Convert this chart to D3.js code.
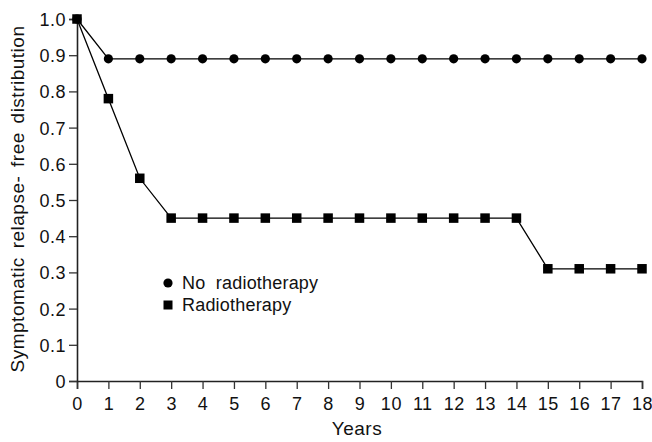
<!DOCTYPE html>
<html>
<head>
<meta charset="utf-8">
<script src="https://cdn.jsdelivr.net/npm/d3@7"></script>
<style>
  body { margin: 0; background: #fff; }
  text { font-family: "Liberation Sans", Arial, sans-serif; fill: #111; letter-spacing: 0.5px; }
</style>
</head>
<body>
<div id="chart"></div>
<script>
// data
var years = [0, 1, 2, 3, 4, 5, 6, 7, 8, 9, 10, 11, 12, 13, 14, 15, 16, 17, 18];
var noRadio = [1.0, 0.89, 0.89, 0.89, 0.89, 0.89, 0.89, 0.89, 0.89, 0.89, 0.89, 0.89, 0.89, 0.89, 0.89, 0.89, 0.89, 0.89, 0.89];
var radio = [1.0, 0.78, 0.56, 0.45, 0.45, 0.45, 0.45, 0.45, 0.45, 0.45, 0.45, 0.45, 0.45, 0.45, 0.45, 0.31, 0.31, 0.31, 0.31];
var yTicks = [0, 0.1, 0.2, 0.3, 0.4, 0.5, 0.6, 0.7, 0.8, 0.9, 1.0];
var seriesNames = ["No  radiotherapy", "Radiotherapy"];

var svgWidth = 652;
var svgHeight = 442;
var fontSize = 18;

var margin = { top: 19, right: 10, bottom: 61, left: 77 };
var width = 642 - margin.left;
var height = 381 - margin.top;

var svg = d3.select("#chart")
  .append("svg")
  .attr("width", svgWidth)
  .attr("height", svgHeight);

var chartGroup = svg.append("g")
  .attr("transform", `translate(${margin.left}, ${margin.top})`);

var x = d3.scaleLinear().domain([0, 18]).range([0, width]);
var y = d3.scaleLinear().domain([0, 1]).range([height, 0]);

var bottomAxis = d3.axisBottom(x).tickValues(years).tickSize(8).tickPadding(8).tickFormat(d3.format("d"));
var leftAxis = d3.axisLeft(y).tickValues(yTicks).tickSize(8).tickPadding(3)
  .tickFormat(function(d) { return d === 0 ? "0" : d3.format(".1f")(d); });

var xg = chartGroup.append("g")
  .attr("transform", `translate(0, ${height})`)
  .call(bottomAxis);

var yg = chartGroup.append("g")
  .call(leftAxis);

[xg, yg].forEach(function(g) {
  g.select(".domain").attr("stroke", "#222").attr("stroke-width", 1.6);
  g.selectAll(".tick line").attr("stroke", "#333").attr("stroke-width", 1.3);
  g.selectAll(".tick text").attr("font-size", fontSize).attr("fill", "#111")
    .style("font-family", "'Liberation Sans', Arial, sans-serif");
});
yg.selectAll(".tick text").attr("dy", "0.36em");

var line = d3.line()
  .x(function(d, i) { return x(years[i]); })
  .y(function(d) { return y(d); });

[noRadio, radio].forEach(function(s) {
  chartGroup.append("path")
    .datum(s)
    .attr("d", line)
    .attr("fill", "none")
    .attr("stroke", "#000")
    .attr("stroke-width", 1.3);
});

// circles
chartGroup.selectAll(".pt-circle")
  .data(noRadio)
  .enter()
  .append("circle")
  .attr("class", "pt-circle")
  .attr("cx", function(d, i) { return x(years[i]); })
  .attr("cy", function(d) { return y(d); })
  .attr("r", 4.6)
  .attr("fill", "#000");

// squares
var sq = 9.5;
chartGroup.selectAll(".pt-square")
  .data(radio)
  .enter()
  .append("rect")
  .attr("class", "pt-square")
  .attr("x", function(d, i) { return x(years[i]) - sq / 2; })
  .attr("y", function(d) { return y(d) - sq / 2; })
  .attr("width", sq)
  .attr("height", sq)
  .attr("fill", "#000");

// legend
var legend = svg.append("g").attr("transform", "translate(168, 283)");
legend.append("circle").attr("cx", 0).attr("cy", 0).attr("r", 4.6).attr("fill", "#000");
legend.append("text").attr("x", 14).attr("y", 0).attr("dy", "0.36em")
  .attr("font-size", fontSize).style("white-space", "pre").style("letter-spacing", "0.2px")
  .text(seriesNames[0]);
legend.append("rect").attr("x", -4.5).attr("y", 22 - 4.5).attr("width", 9).attr("height", 9).attr("fill", "#000");
legend.append("text").attr("x", 14).attr("y", 22).attr("dy", "0.36em")
  .attr("font-size", fontSize).style("letter-spacing", "0.2px").text(seriesNames[1]);

// axis titles
svg.append("text")
  .attr("x", 357)
  .attr("y", 435)
  .attr("text-anchor", "middle")
  .attr("font-size", 19)
  .text("Years");

svg.append("text")
  .attr("transform", `translate(24, 199) rotate(-90)`)
  .attr("text-anchor", "middle")
  .attr("font-size", 19)
  .style("word-spacing", "3px")
  .text("Symptomatic relapse- free distribution");
</script>
</body>
</html>
